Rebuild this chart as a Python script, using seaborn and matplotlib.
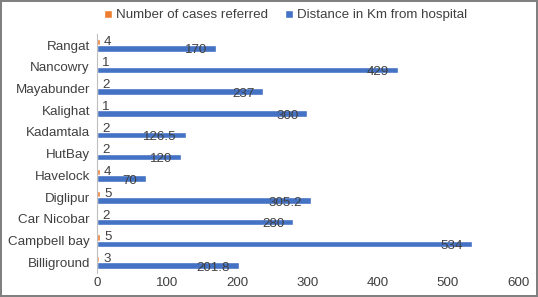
import matplotlib.pyplot as plt
import pandas as pd
import seaborn as sns

PLACES = [
    "Rangat", "Nancowry", "Mayabunder", "Kalighat", "Kadamtala", "HutBay",
    "Havelock", "Diglipur", "Car Nicobar", "Campbell bay", "Billiground",
]
CASES = [4, 1, 2, 1, 2, 2, 4, 5, 2, 5, 3]
DISTANCE_KM = [170, 429, 237, 300, 126.5, 120, 70, 305.2, 280, 534, 201.8]
SERIES = ["Number of cases referred", "Distance in Km from hospital"]
X_TICKS = [0, 100, 200, 300, 400, 500, 600]

COLORS = ["#ED7D31", "#4472C4"]
TEXT = "#404040"
FS = 9.6


def fmt(v: float) -> str:
    return f"{v:g}"


def main() -> None:
    df = pd.concat(
        [
            pd.DataFrame({"place": PLACES, "series": SERIES[0], "value": CASES}),
            pd.DataFrame({"place": PLACES, "series": SERIES[1], "value": DISTANCE_KM}),
        ],
        ignore_index=True,
    )

    sns.set_theme(style="white")
    plt.rcParams["font.family"] = ["Liberation Sans", "DejaVu Sans"]

    fig = plt.figure(figsize=(5.38, 2.97), dpi=100)
    ax = fig.add_axes([0.180, 0.080, 0.783, 0.805])

    sns.barplot(
        data=df, y="place", x="value", hue="series", order=PLACES,
        hue_order=SERIES, palette=COLORS, orient="h", width=0.6,
        saturation=1, ax=ax, legend=True,
    )

    # orange labels: just past the bar end
    for patch, v in zip(ax.containers[0], CASES):
        y = patch.get_y() + patch.get_height() / 2
        ax.annotate(fmt(v), (patch.get_width(), y), xytext=(3, 0),
                    textcoords="offset points", ha="left", va="center",
                    fontsize=FS, color=TEXT)
    # blue labels: inside end
    for patch, v in zip(ax.containers[1], DISTANCE_KM):
        y = patch.get_y() + patch.get_height() / 2
        ax.annotate(fmt(v), (patch.get_width(), y), xytext=(-6.5, -1.5),
                    textcoords="offset points", ha="right", va="center",
                    fontsize=FS, color=TEXT)

    ax.set_xlim(0, 600)
    ax.set_xticks(X_TICKS)
    ax.set_xlabel("")
    ax.set_ylabel("")
    ax.tick_params(axis="y", length=0, labelsize=FS, colors=TEXT, pad=5)
    ax.tick_params(axis="x", length=0, labelsize=FS, colors=TEXT, pad=3)
    for side in ["top", "right", "bottom"]:
        ax.spines[side].set_visible(False)
    ax.spines["left"].set_color("#BFBFBF")
    ax.spines["left"].set_linewidth(0.8)

    handles, labels = ax.get_legend_handles_labels()
    ax.get_legend().remove()
    fig.legend(handles, labels, loc="center", bbox_to_anchor=(0.531, 0.948),
               ncol=2, frameon=False, fontsize=FS, handlelength=0.6,
               handleheight=0.6, handletextpad=0.3, columnspacing=1.3,
               labelcolor=TEXT)

    fig.patch.set_edgecolor("#808080")
    fig.patch.set_linewidth(1.5)
    fig.savefig("out.png", dpi=100, edgecolor=fig.get_edgecolor())
    plt.close(fig)


if __name__ == "__main__":
    main()
